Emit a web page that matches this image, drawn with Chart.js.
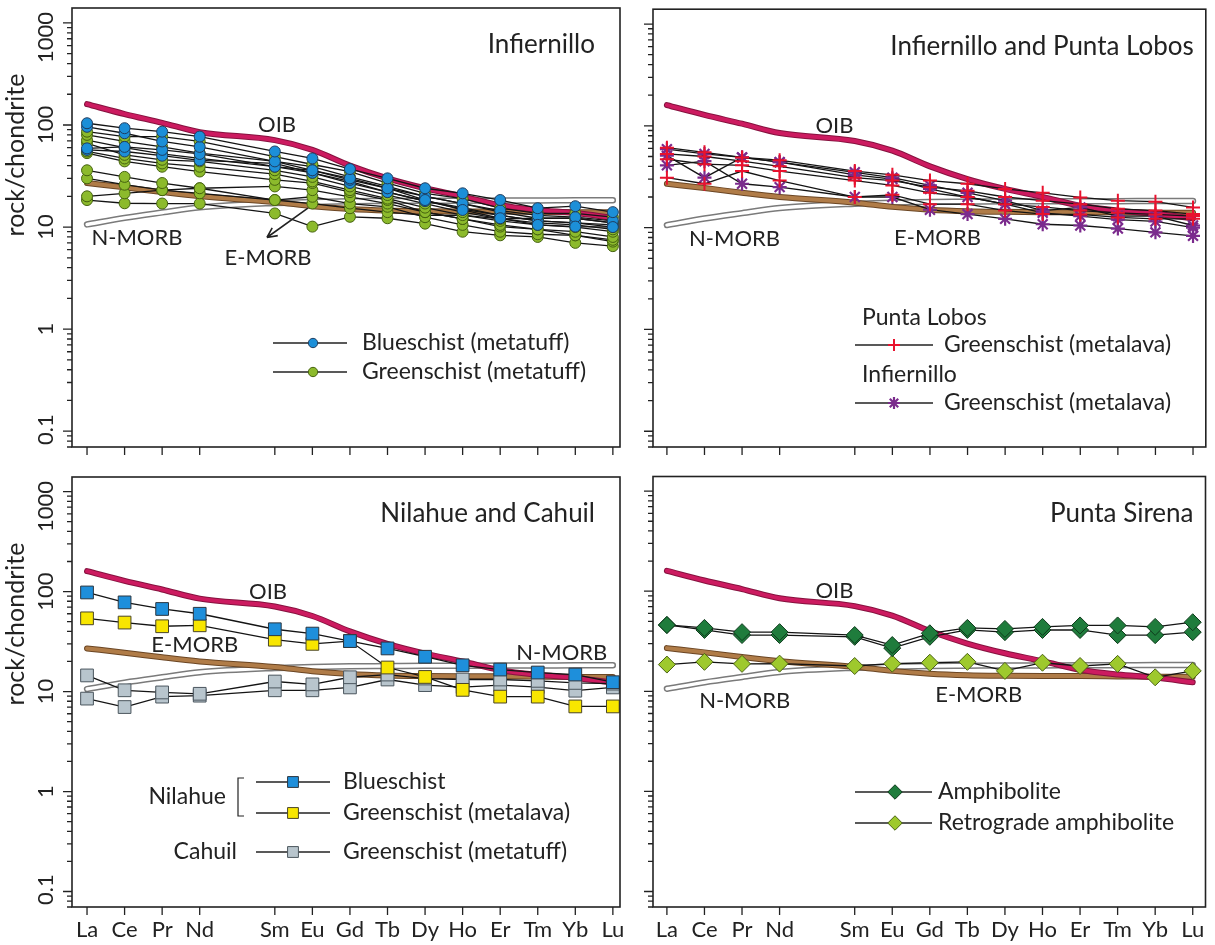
<!DOCTYPE html>
<html>
<head>
<meta charset="utf-8">
<title>REE patterns</title>
<script src="https://cdn.jsdelivr.net/npm/chart.js@4.4.0/dist/chart.umd.min.js"></script>
<style>
  html, body { margin: 0; padding: 0; background: #fff; }
  #wrap { position: relative; width: 1215px; height: 945px; overflow: hidden; }
  canvas { position: absolute; }
</style>
</head>
<body>
<div id="wrap">
  <canvas id="cInf" width="630" height="467" style="left:0;top:0"></canvas>
  <canvas id="cLobos" width="585" height="467" style="left:630px;top:0"></canvas>
  <canvas id="cNil" width="630" height="478" style="left:0;top:467px"></canvas>
  <canvas id="cSir" width="585" height="478" style="left:630px;top:467px"></canvas>
</div>
<script>
// ---- data (chondrite-normalised REE) ----
const elements = ['La', 'Ce', 'Pr', 'Nd', 'Sm', 'Eu', 'Gd', 'Tb', 'Dy', 'Ho', 'Er', 'Tm', 'Yb', 'Lu'];
const atomicNumbers = [57, 58, 59, 60, 62, 63, 64, 65, 66, 67, 68, 69, 70, 71];
const yTickLabels = [0.1, 1, 10, 100, 1000];

// reference patterns
const oib   = [160, 128, 105, 85, 71, 57, 40, 30, 24, 20, 16.4, 14.7, 13.7, 12.3];
const eMorb = [27, 24.5, 22, 20, 17.6, 16, 15, 14.5, 14.3, 14.2, 14.2, 14.1, 14, 14];
const nMorb = [10.6, 12.3, 13.9, 15.6, 17.2, 17.6, 17.9, 18, 18.1, 18.1, 18.2, 18.2, 18.3, 18.3];

// Infiernillo metatuffs
const infBlueschist = [
  [104, 93, 86, 77, 55, 47, 37, 30, 24, 21.4, 18.4, 15.3, 16, 14],
  [96, 83, 69, 61, 44, 36, 30, 24, 18.4, 14.7, 12.2, 10.5, 10.1, 10],
  [59, 61, 57, 52, 39, 36, 29, 24, 20, 17, 14.5, 13, 12.5, 11.5],
  [57, 55, 50, 45, 42, 34, 27, 22, 18, 15, 13, 11.5, 11, 10.5],
];
const infGreenschist = [
  [86, 77, 77, 69, 49, 41, 35, 27, 21.4, 19, 15.3, 13.6, 13.6, 12.5],
  [80, 69, 61, 53, 44, 39, 31, 25, 20, 17, 14, 12.2, 12.2, 11],
  [71, 60, 52, 47, 39, 34, 28, 22, 18, 15.5, 13, 11.5, 11, 10],
  [66, 51, 45.6, 44, 36, 31, 25, 20.6, 17, 14, 12, 11, 10.5, 9.5],
  [55, 47, 42, 39, 33, 28, 23, 19, 15.5, 13.1, 11.5, 10.5, 10, 9],
  [53, 44, 39, 35, 29, 27, 22, 18.4, 14, 12, 10.5, 9.5, 9, 8],
  [36, 31, 27, 24, 25, 23, 19.8, 17, 14, 12, 10.1, 9.5, 8.3, 7.5],
  [30, 26, 23, 21.4, 18.4, 19.8, 17, 15.8, 12.5, 10.5, 9, 8.5, 8.3, 7.2],
  [20, 21.4, 23, 24, 18.4, 17, 15.3, 14, 13, 13.1, 12, 12.2, 12.2, 11],
  [18.4, 17.1, 17, 17, 13.6, 10.1, 12.6, 12.2, 10.8, 9.0, 8.3, 8.0, 7.0, 6.5],
];

// Punta Lobos and Infiernillo metalavas
const lobosGreenschist = [
  [61, 55, 49, 46, 36, 33, 29, 27, 24, 22, 19.8, 18.4, 18, 15.8],
  [53, 50, 45, 40, 31, 29, 25, 23, 20, 18.4, 17, 15.3, 14.7, 13.6],
  [47, 42, 41, 36, 29, 26, 22, 20, 17, 16, 14.7, 14, 13.5, 13],
  [31, 27, 36, 29, 20, 21, 17, 17, 14.7, 13.6, 13.5, 12.6, 12.2, 12.2],
];
const infMetalava = [
  [59, 53, 49, 44, 35, 31, 26, 22, 18.4, 14.7, 15.8, 13, 13, 10.5],
  [51, 31, 49, 44, 33, 30, 24, 20, 17, 14, 13, 12, 11.5, 10],
  [41, 45, 27, 25, 20, 20, 15, 13.6, 12.2, 10.8, 10.5, 9.8, 9.0, 8.3],
];

// Nilahue and Cahuil
const nilBlueschist = [[98, 78, 67, 60, 42, 38, 32, 27, 22.3, 18.3, 16.6, 15.5, 14.8, 12.4]];
const nilGreenschist = [[54, 49, 45, 46, 33, 30, 32, 17.4, 14, 10.4, 8.9, 8.9, 7.1, 7.1]];
const cahGreenschist = [
  [14.5, 10.3, 9.8, 9.5, 12.6, 11.8, 13.9, 14.8, 13.5, 13.2, 13.2, 12.8, 12.2, 12],
  [8.5, 7.0, 8.9, 9.1, 10.3, 10.3, 11.0, 13.2, 11.6, 11.1, 11.6, 11.1, 10.2, 11],
];

// Punta Sirena
const sirAmphibolite = [
  [46, 43, 39, 39, 36.5, 29, 38, 43, 42, 44, 45.5, 45.5, 44, 49],
  [46, 41, 36.5, 36.5, 35, 27, 35, 41, 39, 41, 41, 36.4, 36.4, 39],
];
const sirRetrograde = [[18.5, 19.7, 18.8, 18.9, 17.9, 18.9, 19.3, 19.7, 16, 19.3, 17.9, 18.8, 13.8, 16]];

// ---- styles ----
const INK = '#222';
const FONT = (s) => `${s}px Lato, "Open Sans", sans-serif`;
const mk = {
  blueCircle:  { shape: 'circle',  r: 5.5, fill: '#1c8fd8', stroke: '#1f3d60', bw: 1 },
  greenCircle: { shape: 'circle',  r: 5.5, fill: '#8cba2c', stroke: '#45620f', bw: 1 },
  redCross:    { shape: 'cross',   r: 7,   fill: '#e8122e', stroke: '#e8122e', bw: 2 },
  purpleStar:  { shape: 'star',    r: 7,   fill: '#7b2b8d', stroke: '#7b2b8d', bw: 2.2 },
  blueSquare:  { shape: 'rect',    r: 9,   fill: '#1e8fdb', stroke: '#2b3640', bw: 1 },
  yellowSquare:{ shape: 'rect',    r: 9,   fill: '#f8e600', stroke: '#4a4526', bw: 1 },
  graySquare:  { shape: 'rect',    r: 9,   fill: '#b8c5cd', stroke: '#4b565e', bw: 1 },
  darkDiamond: { shape: 'rectRot', r: 8.5, fill: '#1f7c3c', stroke: '#0e3a1b', bw: 1 },
  limeDiamond: { shape: 'rectRot', r: 8.5, fill: '#9ec92d', stroke: '#4a6213', bw: 1 },
};

function pts(vals) {
  return vals.map((v, i) => ({ x: atomicNumbers[i] - 57, y: v }));
}

function refDatasets() {
  const curve = (vals, color, w, order) => ({
    data: pts(vals), borderColor: color, borderWidth: w, pointRadius: 0,
    tension: 0.35, cubicInterpolationMode: 'monotone', borderCapStyle: 'round', order,
  });
  return [
    curve(oib, '#cc1b60', 4, 10),
    curve(oib, '#86123f', 6, 11),
    curve(eMorb, '#b07c48', 4, 12),
    curve(eMorb, '#6b4624', 6, 13),
    curve(nMorb, '#ffffff', 3.4, 14),
    curve(nMorb, '#7a7a7a', 6.4, 15),
  ];
}

function sampleDatasets(series, st) {
  return series.map((vals) => ({
    data: pts(vals), borderColor: '#141414', borderWidth: 1.3, tension: 0,
    pointStyle: st.shape, pointRadius: st.r, pointBackgroundColor: st.fill,
    pointBorderColor: st.stroke, pointBorderWidth: st.bw, order: 1,
  }));
}

function drawMarker(ctx, st, x, y, scale) {
  ctx.save();
  ctx.fillStyle = st.fill;
  ctx.strokeStyle = st.stroke;
  ctx.lineWidth = st.bw;
  Chart.helpers.drawPoint(ctx, { pointStyle: st.shape, radius: st.r * scale, rotation: 0, borderWidth: st.bw }, x, y);
  ctx.restore();
}

function line(ctx, x0, y0, x1, y1) { ctx.moveTo(x0, y0); ctx.lineTo(x1, y1); }

// frame, log ticks, rotated labels, notes and legends
const decor = {
  id: 'decor',
  afterDraw(chart, args, o) {
    const { ctx, chartArea: a } = chart;
    const x = chart.scales.x, y = chart.scales.y;
    ctx.save();
    ctx.strokeStyle = INK;
    ctx.fillStyle = INK;

    ctx.lineWidth = 1.6;
    ctx.strokeRect(a.left, a.top, a.right - a.left, a.bottom - a.top);

    ctx.beginPath();
    for (let k = -2; k <= 3; k++) {
      for (let m = 1; m <= 9; m++) {
        const v = m * Math.pow(10, k);
        if (v < y.min || v > y.max) continue;
        const py = y.getPixelForValue(v);
        line(ctx, a.left - (m === 1 ? 9 : 5), py, a.left, py);
      }
    }
    atomicNumbers.forEach((z) => {
      const px = x.getPixelForValue(z - 57);
      line(ctx, px, a.bottom, px, a.bottom + 8);
    });
    ctx.lineWidth = 1.3;
    ctx.stroke();

    ctx.textAlign = 'center';
    ctx.textBaseline = 'middle';

    if (o.yLabels) {
      ctx.font = FONT(22);
      yTickLabels.forEach((v) => {
        const s = String(v);
        const half = ctx.measureText(s).width / 2;
        let py = y.getPixelForValue(v);
        py = Math.min(Math.max(py, a.top + half + 4), a.bottom - half - 2);
        ctx.save();
        ctx.translate(a.left - 26, py);
        ctx.rotate(-Math.PI / 2);
        ctx.fillText(s, 0, 0);
        ctx.restore();
      });
      ctx.font = FONT(25);
      ctx.save();
      ctx.translate(16, a.top + 147);
      ctx.rotate(-Math.PI / 2);
      ctx.fillText('rock/chondrite', 0, 0);
      ctx.restore();
    }

    if (o.xLabels) {
      ctx.font = FONT(22);
      atomicNumbers.forEach((z, i) => {
        ctx.fillText(elements[i], x.getPixelForValue(z - 57), a.bottom + 23);
      });
    }

    ctx.font = FONT(22);
    o.notes.forEach((n) => ctx.fillText(n.text, x.getPixelForValue(n.x), y.getPixelForValue(n.v)));

    if (o.arrow) {
      const x0 = x.getPixelForValue(o.arrow.from[0]), y0 = y.getPixelForValue(o.arrow.from[1]);
      const x1 = x.getPixelForValue(o.arrow.to[0]), y1 = y.getPixelForValue(o.arrow.to[1]);
      const ang = Math.atan2(y1 - y0, x1 - x0);
      ctx.beginPath();
      line(ctx, x0, y0, x1, y1);
      line(ctx, x1, y1, x1 - 11 * Math.cos(ang - 0.45), y1 - 11 * Math.sin(ang - 0.45));
      line(ctx, x1, y1, x1 - 11 * Math.cos(ang + 0.45), y1 - 11 * Math.sin(ang + 0.45));
      ctx.lineWidth = 1.6;
      ctx.stroke();
    }

    ctx.font = FONT(26);
    ctx.textAlign = 'right';
    ctx.fillText(o.title, a.right - o.titleInset, a.top + 37);

    // legend
    const lg = o.legend;
    ctx.font = FONT(23);
    ctx.textAlign = 'left';
    lg.rows.forEach((r) => {
      ctx.beginPath();
      line(ctx, lg.line[0], r.y, lg.line[1], r.y);
      ctx.lineWidth = 1.4;
      ctx.strokeStyle = INK;
      ctx.stroke();
      drawMarker(ctx, r.mk, lg.marker, r.y, 0.85);
      ctx.fillStyle = INK;
      ctx.fillText(r.text, lg.text, r.y);
    });
    (lg.heads || []).forEach((h) => {
      ctx.textAlign = h.align;
      ctx.fillText(h.text, h.x, h.y);
    });
    if (lg.bracket) {
      const b = lg.bracket;
      ctx.beginPath();
      ctx.moveTo(b.x + 6, b.y0); ctx.lineTo(b.x, b.y0); ctx.lineTo(b.x, b.y1); ctx.lineTo(b.x + 6, b.y1);
      ctx.lineWidth = 1.2;
      ctx.stroke();
    }
    ctx.restore();
  },
};

function makePanel(id, datasets, geom, decorOpts) {
  return new Chart(document.getElementById(id), {
    type: 'line',
    data: { datasets },
    options: {
      responsive: false,
      animation: false,
      layout: { padding: geom.pad },
      plugins: { legend: { display: false }, tooltip: { enabled: false }, decor: decorOpts },
      scales: {
        x: { type: 'linear', display: false, min: geom.xMin, max: geom.xMax },
        y: { type: 'logarithmic', display: false, min: 0.07, max: 1400 },
      },
    },
    plugins: [decor],
  });
}

const leftTop   = { pad: { left: 72, top: 8, right: 10, bottom: 20 }, xMin: -0.4, xMax: 14.19 };
const rightTop  = { pad: { left: 23, top: 8, right: 7, bottom: 20 }, xMin: -0.37, xMax: 14.34 };
const leftBot   = { pad: { left: 72, top: 1, right: 10, bottom: 38 }, xMin: -0.4, xMax: 14.19 };
const rightBot  = { pad: { left: 23, top: 1, right: 7, bottom: 38 }, xMin: -0.37, xMax: 14.34 };

makePanel('cInf', [
  ...sampleDatasets(infBlueschist, mk.blueCircle),
  ...sampleDatasets(infGreenschist, mk.greenCircle),
  ...refDatasets(),
], leftTop, {
  yLabels: true, xLabels: false, title: 'Infiernillo', titleInset: 25,
  notes: [{ text: 'OIB', x: 5.06, v: 100 }, { text: 'N-MORB', x: 1.33, v: 7.8 }, { text: 'E-MORB', x: 4.82, v: 5.0 }],
  arrow: { from: [5.88, 15.3], to: [4.79, 7.9] },
  legend: {
    line: [273, 347], marker: 313, text: 362,
    rows: [
      { y: 343, text: 'Blueschist (metatuff)', mk: mk.blueCircle },
      { y: 372, text: 'Greenschist (metatuff)', mk: mk.greenCircle },
    ],
  },
});

makePanel('cLobos', [
  ...sampleDatasets(lobosGreenschist, mk.redCross),
  ...sampleDatasets(infMetalava, mk.purpleStar),
  ...refDatasets(),
], rightTop, {
  yLabels: false, xLabels: false, title: 'Infiernillo and Punta Lobos', titleInset: 12,
  notes: [{ text: 'OIB', x: 4.46, v: 100 }, { text: 'N-MORB', x: 1.8, v: 7.8 }, { text: 'E-MORB', x: 7.2, v: 8.0 }],
  legend: {
    line: [225, 303], marker: 264, text: 314,
    rows: [
      { y: 345, text: 'Greenschist (metalava)', mk: mk.redCross },
      { y: 403, text: 'Greenschist (metalava)', mk: mk.purpleStar },
    ],
    heads: [
      { text: 'Punta Lobos', x: 232, y: 318, align: 'left' },
      { text: 'Infiernillo', x: 232, y: 375, align: 'left' },
    ],
  },
});

makePanel('cNil', [
  ...sampleDatasets(nilBlueschist, mk.blueSquare),
  ...sampleDatasets(nilGreenschist, mk.yellowSquare),
  ...sampleDatasets(cahGreenschist, mk.graySquare),
  ...refDatasets(),
], leftBot, {
  yLabels: true, xLabels: true, title: 'Nilahue and Cahuil', titleInset: 25,
  notes: [{ text: 'OIB', x: 4.82, v: 100 }, { text: 'E-MORB', x: 2.87, v: 29 }, { text: 'N-MORB', x: 12.64, v: 24.6 }],
  legend: {
    line: [256, 330], marker: 293, text: 343,
    rows: [
      { y: 315, text: 'Blueschist', mk: mk.blueSquare },
      { y: 346, text: 'Greenschist (metalava)', mk: mk.yellowSquare },
      { y: 385, text: 'Greenschist (metatuff)', mk: mk.graySquare },
    ],
    heads: [
      { text: 'Nilahue', x: 226, y: 330, align: 'right' },
      { text: 'Cahuil', x: 237, y: 385, align: 'right' },
    ],
    bracket: { x: 238, y0: 311, y1: 349 },
  },
});

makePanel('cSir', [
  ...sampleDatasets(sirAmphibolite, mk.darkDiamond),
  ...sampleDatasets(sirRetrograde, mk.limeDiamond),
  ...refDatasets(),
], rightBot, {
  yLabels: false, xLabels: true, title: 'Punta Sirena', titleInset: 12,
  notes: [{ text: 'OIB', x: 4.46, v: 100 }, { text: 'N-MORB', x: 2.07, v: 8.0 }, { text: 'E-MORB', x: 8.3, v: 9.3 }],
  legend: {
    line: [225, 302], marker: 265, text: 308,
    rows: [
      { y: 325, text: 'Amphibolite', mk: mk.darkDiamond },
      { y: 356, text: 'Retrograde amphibolite', mk: mk.limeDiamond },
    ],
  },
});
</script>
</body>
</html>
